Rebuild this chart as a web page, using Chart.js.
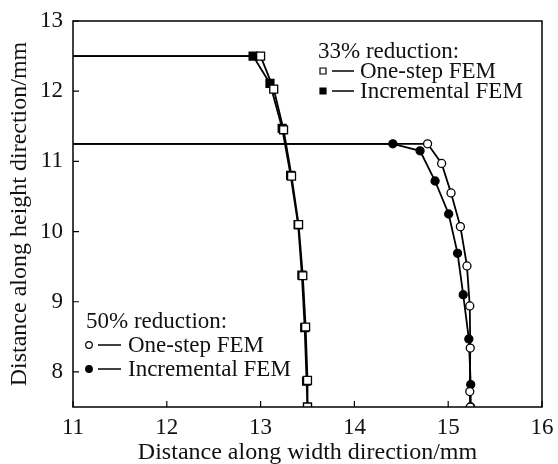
<!DOCTYPE html>
<html>
<head>
<meta charset="utf-8">
<script src="https://cdn.jsdelivr.net/npm/chart.js@4"></script>
<style>
  html, body { margin: 0; padding: 0; background: #fff; }
  #wrap { width: 558px; height: 464px; }
</style>
</head>
<body>
<div id="wrap"><canvas id="chart"></canvas></div>
<script>
// 33% reduction (squares)
const xOneStep33 = [11, 13.00, 13.14, 13.245, 13.33, 13.405, 13.45, 13.48, 13.50, 13.50];
const yOneStep33 = [12.5, 12.5, 12.03, 11.45, 10.79, 10.10, 9.37, 8.64, 7.88, 7.5];
const xIncr33 = [11, 12.92, 13.10, 13.23, 13.32, 13.40, 13.44, 13.47, 13.49, 13.50];
const yIncr33 = [12.5, 12.5, 12.11, 11.47, 10.80, 10.10, 9.38, 8.63, 7.87, 7.5];

// 50% reduction (circles)
const xOneStep50 = [11, 14.78, 14.93, 15.03, 15.13, 15.20, 15.23, 15.235, 15.23, 15.235];
const yOneStep50 = [11.25, 11.25, 10.97, 10.55, 10.07, 9.51, 8.94, 8.34, 7.72, 7.5];
const xIncr50 = [11, 14.41, 14.70, 14.86, 15.005, 15.10, 15.16, 15.22, 15.24, 15.24];
const yIncr50 = [11.25, 11.25, 11.15, 10.72, 10.25, 9.69, 9.10, 8.47, 7.82, 7.5];

const xTicks = [11, 12, 13, 14, 15, 16];
const yTicks = [8, 9, 10, 11, 12, 13];

const FONT = '"Liberation Serif", "Times New Roman", serif';

const toPoints = (xs, ys) => xs.map((x, i) => ({ x: x, y: ys[i] }));
// first point sits on the left axis: no marker there
const radii = (n, r) => Array.from({ length: n }, (_, i) => i === 0 ? 0 : r);

const makeSet = (label, xs, ys, style, filled, r) => ({
    label: label,
    data: toPoints(xs, ys),
    showLine: true,
    borderColor: '#000',
    borderWidth: 1.8,
    pointStyle: style,
    pointRadius: radii(xs.length, r),
    pointBackgroundColor: filled ? '#000' : '#fff',
    pointBorderColor: '#000',
    pointBorderWidth: 1.3,
    tension: 0
});

// frame + inward ticks + two grouped legends
const framePlugin = {
    id: 'frame',
    afterDraw(chart) {
        const { ctx, chartArea: a, scales } = chart;
        ctx.save();
        ctx.strokeStyle = '#000';
        ctx.lineWidth = 1.5;
        ctx.strokeRect(a.left, a.top, a.right - a.left, a.bottom - a.top);
        ctx.lineWidth = 1.2;
        ctx.beginPath();
        xTicks.forEach(v => {
            const px = scales.x.getPixelForValue(v);
            ctx.moveTo(px, a.bottom);
            ctx.lineTo(px, a.bottom - 6);
        });
        yTicks.forEach(v => {
            const py = scales.y.getPixelForValue(v);
            ctx.moveTo(a.left, py);
            ctx.lineTo(a.left + 6, py);
        });
        ctx.stroke();

        ctx.font = '23px ' + FONT;
        ctx.textBaseline = 'alphabetic';
        ctx.textAlign = 'left';

        const drawGroup = (g) => {
            ctx.fillStyle = '#111';
            ctx.fillText(g.title, g.x, g.y);
            g.rows.forEach((row, i) => {
                const by = g.y + g.dy * (i + 1);
                const cy = by - 7;
                ctx.lineWidth = 1.5;
                ctx.strokeStyle = '#000';
                ctx.beginPath();
                ctx.moveTo(g.lineX0, cy);
                ctx.lineTo(g.lineX1, cy);
                ctx.stroke();
                ctx.lineWidth = 1.2;
                ctx.fillStyle = row.filled ? '#000' : '#fff';
                ctx.beginPath();
                if (g.square) {
                    ctx.rect(g.symX - 3, cy - 3, 6, 6);
                } else {
                    ctx.arc(g.symX, cy, 3.3, 0, Math.PI * 2);
                }
                ctx.fill();
                ctx.stroke();
                ctx.fillStyle = '#111';
                ctx.fillText(row.text, g.textX, by);
            });
        };

        drawGroup({
            title: '33% reduction:', x: a.left + 245, y: a.top + 37, dy: 20,
            square: true, symX: a.left + 250, lineX0: a.left + 259, lineX1: a.left + 281, textX: a.left + 287,
            rows: [{ text: 'One-step FEM', filled: false }, { text: 'Incremental FEM', filled: true }]
        });
        drawGroup({
            title: '50% reduction:', x: a.left + 13, y: a.top + 307, dy: 24,
            square: false, symX: a.left + 16, lineX0: a.left + 25, lineX1: a.left + 48, textX: a.left + 55,
            rows: [{ text: 'One-step FEM', filled: false }, { text: 'Incremental FEM', filled: true }]
        });
        ctx.restore();
    }
};

new Chart(document.getElementById('chart'), {
    type: 'scatter',
    data: {
        // index 0 is painted last, so open markers go first to sit on top
        datasets: [
            makeSet('One-step FEM (33%)', xOneStep33, yOneStep33, 'rect', false, 5.6),
            makeSet('Incremental FEM (33%)', xIncr33, yIncr33, 'rect', true, 5.6),
            makeSet('One-step FEM (50%)', xOneStep50, yOneStep50, 'circle', false, 4),
            makeSet('Incremental FEM (50%)', xIncr50, yIncr50, 'circle', true, 4)
        ]
    },
    options: {
        responsive: true,
        maintainAspectRatio: false,
        animation: false,
        layout: { padding: { left: 0, right: 16, top: 21, bottom: 0 } },
        plugins: {
            legend: { display: false },
            tooltip: { enabled: false }
        },
        scales: {
            x: {
                type: 'linear',
                min: 11,
                max: 16,
                afterBuildTicks: s => { s.ticks = xTicks.map(v => ({ value: v })); },
                afterFit: s => { s.height = 57; s.paddingLeft = 0; s.paddingRight = 0; },
                grid: { display: false, drawTicks: false },
                border: { display: false },
                ticks: { color: '#111', padding: 7, font: { family: FONT, size: 23 } },
                title: {
                    display: true,
                    text: 'Distance along width direction/mm',
                    color: '#111',
                    font: { family: FONT, size: 24 },
                    padding: { top: 0, bottom: -3 }
                }
            },
            y: {
                type: 'linear',
                min: 7.5,
                max: 13,
                afterBuildTicks: s => { s.ticks = yTicks.map(v => ({ value: v })); },
                afterFit: s => { s.width = 73; s.paddingTop = 0; s.paddingBottom = 0; },
                grid: { display: false, drawTicks: false },
                border: { display: false },
                ticks: { color: '#111', padding: 10, font: { family: FONT, size: 23 } },
                title: {
                    display: true,
                    text: 'Distance along height direction/mm',
                    color: '#111',
                    font: { family: FONT, size: 24 },
                    padding: { top: 5, bottom: 0 }
                }
            }
        }
    },
    plugins: [framePlugin]
});
</script>
</body>
</html>
